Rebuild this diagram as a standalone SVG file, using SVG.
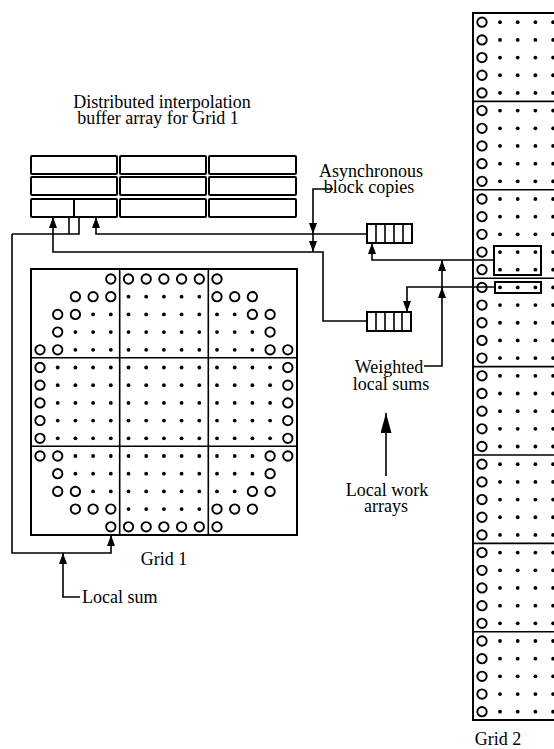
<svg xmlns="http://www.w3.org/2000/svg" width="554" height="749" viewBox="0 0 554 749">
<style>
text{font-family:"Liberation Serif","Times New Roman",serif;font-size:18px;fill:#000}
.box{fill:none;stroke:#000;stroke-width:2}
.ln{fill:none;stroke:#000;stroke-width:1.6}
.o{fill:none;stroke:#000;stroke-width:1.9}
.d{fill:#000}
</style>
<defs>
<marker id="ah" markerUnits="userSpaceOnUse" markerWidth="11" markerHeight="8" refX="11" refY="4" orient="auto"><path d="M0,0 L11,4 L0,8 z" fill="#000"/></marker>
<marker id="ahb" markerUnits="userSpaceOnUse" markerWidth="20" markerHeight="11" refX="20" refY="5.5" orient="auto"><path d="M0,0 L20,5.5 L0,11 z" fill="#000"/></marker>
<circle id="oc" r="4.7" class="o"/>
<circle id="dt" r="1.9" class="d"/>
</defs>

<g id="labels">
<text text-anchor="middle"><tspan x="162" y="108">Distributed interpolation</tspan><tspan x="158" y="124">buffer array for Grid 1</tspan></text>
<text text-anchor="middle"><tspan x="371" y="177">Asynchronous</tspan><tspan x="369" y="193">block copies</tspan></text>
<text text-anchor="middle"><tspan x="389" y="373">Weighted</tspan><tspan x="391" y="390">local sums</tspan></text>
<text text-anchor="middle"><tspan x="387" y="496">Local work</tspan><tspan x="386" y="512">arrays</tspan></text>
<text x="164" y="565" text-anchor="middle">Grid 1</text>
<text x="82" y="603">Local sum</text>
<text x="498" y="745" text-anchor="middle">Grid 2</text>
</g>

<g id="buffer">
<rect class="box" x="31" y="156" width="86" height="18" rx="1"/>
<rect class="box" x="120" y="156" width="86" height="18" rx="1"/>
<rect class="box" x="209" y="156" width="87" height="18" rx="1"/>
<rect class="box" x="31" y="177" width="86" height="18" rx="1"/>
<rect class="box" x="120" y="177" width="86" height="18" rx="1"/>
<rect class="box" x="209" y="177" width="87" height="18" rx="1"/>
<rect class="box" x="31" y="199" width="86" height="18" rx="1"/>
<line class="box" x1="74" y1="199" x2="74" y2="217"/>
<rect class="box" x="120" y="199" width="86" height="18" rx="1"/>
<rect class="box" x="209" y="199" width="87" height="18" rx="1"/>
</g>

<g id="work-upper">
<rect class="box" x="367" y="224" width="45" height="19"/>
<path class="ln" d="M376,224V243M385,224V243M394,224V243M403,224V243"/>
</g>
<g id="work-lower">
<rect class="box" x="367" y="312" width="44" height="19"/>
<path class="ln" d="M376,312V331M385,312V331M394,312V331M402,312V331"/>
</g>

<g id="grid1">
<rect class="box" x="31" y="269" width="266" height="266"/>
<path class="ln" d="M119.7,269V535M208.3,269V535M31,357.7H297M31,446.3H297"/>
<use href="#oc" x="110.8" y="279"/><use href="#oc" x="128.5" y="279"/><use href="#oc" x="146.2" y="279"/><use href="#oc" x="163.9" y="279"/><use href="#oc" x="181.6" y="279"/><use href="#oc" x="199.3" y="279"/><use href="#oc" x="217" y="279"/>
<use href="#oc" x="75.4" y="296.7"/><use href="#oc" x="93.1" y="296.7"/><use href="#oc" x="110.8" y="296.7"/>
<use href="#dt" x="128.5" y="296.7"/><use href="#dt" x="146.2" y="296.7"/><use href="#dt" x="163.9" y="296.7"/><use href="#dt" x="181.6" y="296.7"/><use href="#dt" x="199.3" y="296.7"/>
<use href="#oc" x="217" y="296.7"/><use href="#oc" x="234.7" y="296.7"/><use href="#oc" x="252.4" y="296.7"/>
<use href="#oc" x="57.7" y="314.4"/><use href="#oc" x="75.4" y="314.4"/>
<use href="#dt" x="93.1" y="314.4"/><use href="#dt" x="110.8" y="314.4"/><use href="#dt" x="128.5" y="314.4"/><use href="#dt" x="146.2" y="314.4"/><use href="#dt" x="163.9" y="314.4"/><use href="#dt" x="181.6" y="314.4"/><use href="#dt" x="199.3" y="314.4"/><use href="#dt" x="217" y="314.4"/><use href="#dt" x="234.7" y="314.4"/>
<use href="#oc" x="252.4" y="314.4"/><use href="#oc" x="270.1" y="314.4"/>
<use href="#oc" x="57.7" y="332.1"/>
<use href="#dt" x="75.4" y="332.1"/><use href="#dt" x="93.1" y="332.1"/><use href="#dt" x="110.8" y="332.1"/><use href="#dt" x="128.5" y="332.1"/><use href="#dt" x="146.2" y="332.1"/><use href="#dt" x="163.9" y="332.1"/><use href="#dt" x="181.6" y="332.1"/><use href="#dt" x="199.3" y="332.1"/><use href="#dt" x="217" y="332.1"/><use href="#dt" x="234.7" y="332.1"/><use href="#dt" x="252.4" y="332.1"/>
<use href="#oc" x="270.1" y="332.1"/>
<use href="#oc" x="40" y="349.8"/><use href="#oc" x="57.7" y="349.8"/>
<use href="#dt" x="75.4" y="349.8"/><use href="#dt" x="93.1" y="349.8"/><use href="#dt" x="110.8" y="349.8"/><use href="#dt" x="128.5" y="349.8"/><use href="#dt" x="146.2" y="349.8"/><use href="#dt" x="163.9" y="349.8"/><use href="#dt" x="181.6" y="349.8"/><use href="#dt" x="199.3" y="349.8"/><use href="#dt" x="217" y="349.8"/><use href="#dt" x="234.7" y="349.8"/><use href="#dt" x="252.4" y="349.8"/>
<use href="#oc" x="270.1" y="349.8"/><use href="#oc" x="287.8" y="349.8"/>
<g id="midrow">
<use href="#oc" x="40" y="367.5"/>
<use href="#dt" x="57.7" y="367.5"/><use href="#dt" x="75.4" y="367.5"/><use href="#dt" x="93.1" y="367.5"/><use href="#dt" x="110.8" y="367.5"/><use href="#dt" x="128.5" y="367.5"/><use href="#dt" x="146.2" y="367.5"/><use href="#dt" x="163.9" y="367.5"/><use href="#dt" x="181.6" y="367.5"/><use href="#dt" x="199.3" y="367.5"/><use href="#dt" x="217" y="367.5"/><use href="#dt" x="234.7" y="367.5"/><use href="#dt" x="252.4" y="367.5"/><use href="#dt" x="270.1" y="367.5"/>
<use href="#oc" x="287.8" y="367.5"/>
</g>
<use href="#midrow" y="17.7"/>
<use href="#midrow" y="35.4"/>
<use href="#midrow" y="53.1"/>
<use href="#midrow" y="70.8"/>
<use href="#oc" x="40" y="456"/><use href="#oc" x="57.7" y="456"/>
<use href="#dt" x="75.4" y="456"/><use href="#dt" x="93.1" y="456"/><use href="#dt" x="110.8" y="456"/><use href="#dt" x="128.5" y="456"/><use href="#dt" x="146.2" y="456"/><use href="#dt" x="163.9" y="456"/><use href="#dt" x="181.6" y="456"/><use href="#dt" x="199.3" y="456"/><use href="#dt" x="217" y="456"/><use href="#dt" x="234.7" y="456"/><use href="#dt" x="252.4" y="456"/>
<use href="#oc" x="270.1" y="456"/><use href="#oc" x="287.8" y="456"/>
<use href="#oc" x="57.7" y="473.7"/>
<use href="#dt" x="75.4" y="473.7"/><use href="#dt" x="93.1" y="473.7"/><use href="#dt" x="110.8" y="473.7"/><use href="#dt" x="128.5" y="473.7"/><use href="#dt" x="146.2" y="473.7"/><use href="#dt" x="163.9" y="473.7"/><use href="#dt" x="181.6" y="473.7"/><use href="#dt" x="199.3" y="473.7"/><use href="#dt" x="217" y="473.7"/><use href="#dt" x="234.7" y="473.7"/><use href="#dt" x="252.4" y="473.7"/>
<use href="#oc" x="270.1" y="473.7"/>
<use href="#oc" x="57.7" y="491.4"/><use href="#oc" x="75.4" y="491.4"/>
<use href="#dt" x="93.1" y="491.4"/><use href="#dt" x="110.8" y="491.4"/><use href="#dt" x="128.5" y="491.4"/><use href="#dt" x="146.2" y="491.4"/><use href="#dt" x="163.9" y="491.4"/><use href="#dt" x="181.6" y="491.4"/><use href="#dt" x="199.3" y="491.4"/><use href="#dt" x="217" y="491.4"/><use href="#dt" x="234.7" y="491.4"/>
<use href="#oc" x="252.4" y="491.4"/><use href="#oc" x="270.1" y="491.4"/>
<use href="#oc" x="75.4" y="509.1"/><use href="#oc" x="93.1" y="509.1"/><use href="#oc" x="110.8" y="509.1"/>
<use href="#dt" x="128.5" y="509.1"/><use href="#dt" x="146.2" y="509.1"/><use href="#dt" x="163.9" y="509.1"/><use href="#dt" x="181.6" y="509.1"/><use href="#dt" x="199.3" y="509.1"/>
<use href="#oc" x="217" y="509.1"/><use href="#oc" x="234.7" y="509.1"/><use href="#oc" x="252.4" y="509.1"/>
<use href="#oc" x="110.8" y="526.8"/><use href="#oc" x="128.5" y="526.8"/><use href="#oc" x="146.2" y="526.8"/><use href="#oc" x="163.9" y="526.8"/><use href="#oc" x="181.6" y="526.8"/><use href="#oc" x="199.3" y="526.8"/><use href="#oc" x="217" y="526.8"/>
</g>

<g id="grid2">
<rect class="box" x="473" y="13" width="120" height="707"/>
<path class="ln" d="M473,101.4H560M473,189.8H560M473,278.2H560M473,366.6H560M473,455H560M473,543.4H560M473,631.8H560"/>
<g id="g2row">
<use href="#oc" x="482" y="22.2"/><use href="#dt" x="500" y="22.2"/><use href="#dt" x="517.7" y="22.2"/><use href="#dt" x="535.4" y="22.2"/><use href="#dt" x="553.1" y="22.2"/>
</g>
<g id="g2blk">
<use href="#g2row" y="17.68"/>
<use href="#g2row" y="35.36"/>
<use href="#g2row" y="53.04"/>
<use href="#g2row" y="70.72"/>
</g>
<use href="#g2blk" y="88.4"/>
<use href="#g2row" y="88.4"/>
<use href="#g2blk" y="176.8"/>
<use href="#g2row" y="176.8"/>
<use href="#g2blk" y="265.2"/>
<use href="#g2row" y="265.2"/>
<use href="#g2blk" y="353.6"/>
<use href="#g2row" y="353.6"/>
<use href="#g2blk" y="442"/>
<use href="#g2row" y="442"/>
<use href="#g2blk" y="530.4"/>
<use href="#g2row" y="530.4"/>
<use href="#g2blk" y="618.8"/>
<use href="#g2row" y="618.8"/>
<rect class="box" x="494" y="246" width="47" height="29"/>
<rect class="box" x="495" y="282" width="46" height="11"/>
</g>

<g id="connectors">
<path class="ln" d="M12,234H79V217M69,217V234"/>
<path class="ln" d="M12,234V553H111V535" marker-end="url(#ah)"/>
<path class="ln" d="M367,234H96V217" marker-end="url(#ah)"/>
<path class="ln" d="M367,321H323V252H53V217" marker-end="url(#ah)"/>
<path class="ln" d="M333,189H313V234" marker-end="url(#ah)"/>
<path class="ln" d="M313,234V252" marker-end="url(#ah)"/>
<path class="ln" d="M494,260H372V243" marker-end="url(#ah)"/>
<path class="ln" d="M495,287H407V312" marker-end="url(#ah)"/>
<path class="ln" d="M424,366H442V287" marker-end="url(#ah)"/>
<path class="ln" d="M442,287V260" marker-end="url(#ah)"/>
<path class="ln" d="M386,476V413" stroke-width="2" marker-end="url(#ahb)"/>
<path class="ln" d="M80,597H63V553" marker-end="url(#ah)"/>
</g>
</svg>
